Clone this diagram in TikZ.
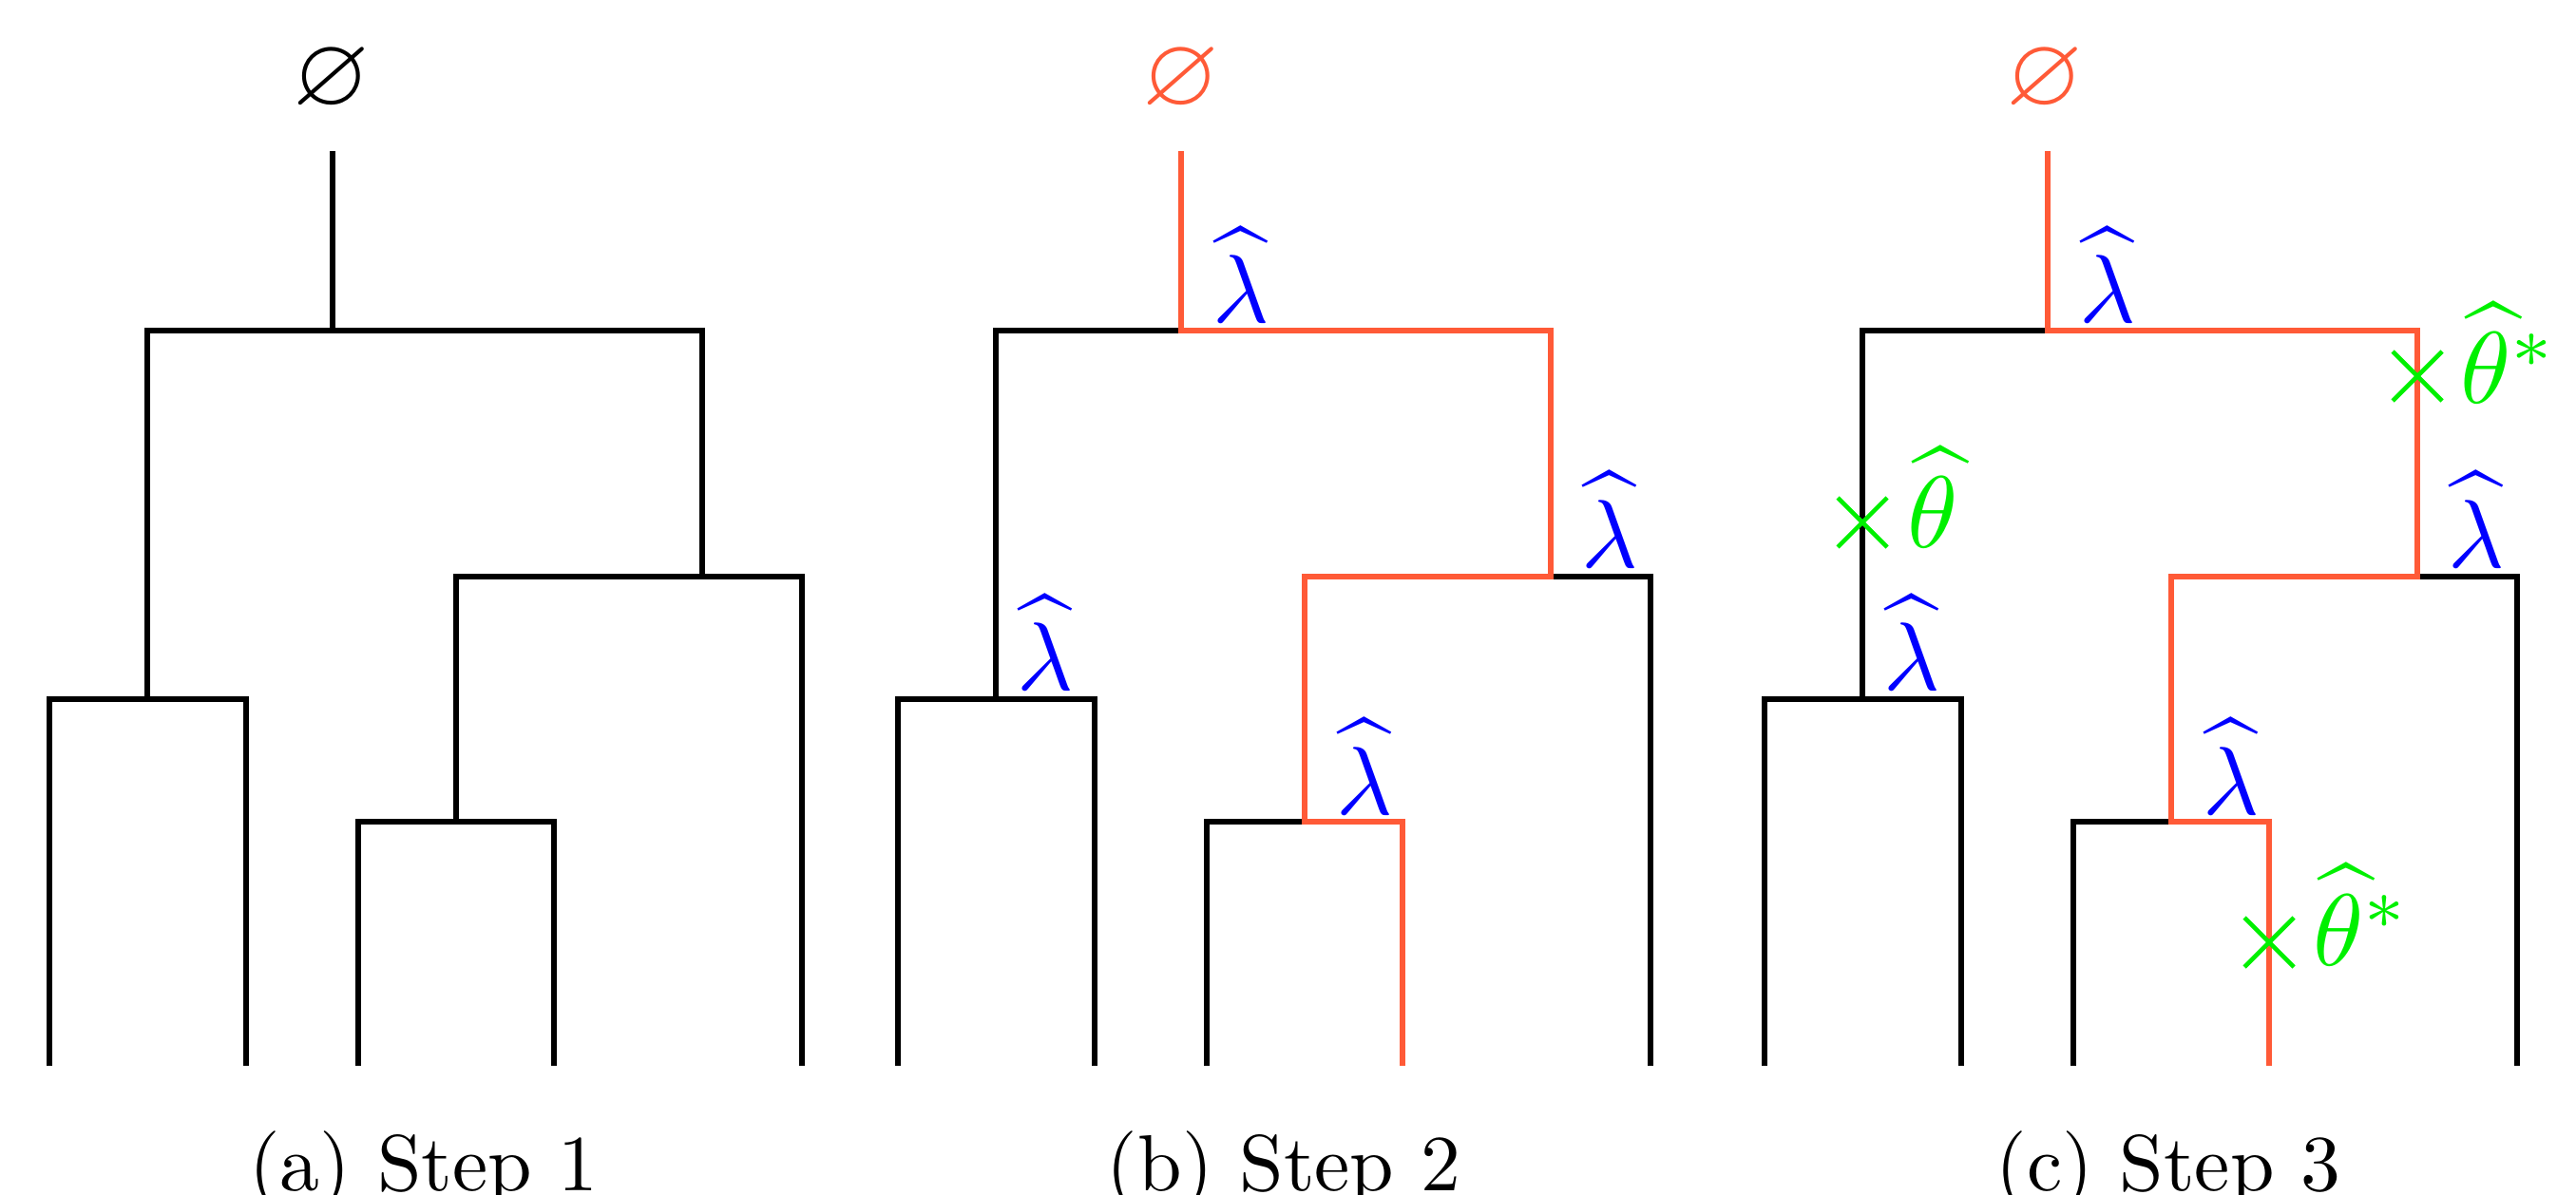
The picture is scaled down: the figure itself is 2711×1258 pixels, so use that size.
\documentclass[tikz,border=0pt]{standalone}
\usepackage{amssymb}
\definecolor{pathred}{RGB}{255,90,55}
\definecolor{lamblue}{RGB}{0,0,255}
\definecolor{thgreen}{RGB}{0,240,0}

\newcommand{\treecoords}[2]{%
  \begin{scope}[shift={(#2,0)}]
    \coordinate (#1-top) at (350,159);
    \coordinate (#1-r)   at (350,348);
    \coordinate (#1-rl)  at (155,348);
    \coordinate (#1-rr)  at (739,348);
    \coordinate (#1-l)   at (155,736);
    \coordinate (#1-ll)  at (52,736);
    \coordinate (#1-lr)  at (259,736);
    \coordinate (#1-lla) at (52,1122);
    \coordinate (#1-lra) at (259,1122);
    \coordinate (#1-m)   at (739,607);
    \coordinate (#1-ml)  at (480,607);
    \coordinate (#1-mr)  at (844,607);
    \coordinate (#1-mra) at (844,1122);
    \coordinate (#1-n)   at (480,865);
    \coordinate (#1-nl)  at (377,865);
    \coordinate (#1-nr)  at (583,865);
    \coordinate (#1-nla) at (377,1122);
    \coordinate (#1-nra) at (583,1122);
    \coordinate (#1-lamr) at (413,340);
    \coordinate (#1-laml) at (207,727);
    \coordinate (#1-lamm) at (801,597);
    \coordinate (#1-lamn) at (543,857);
  \end{scope}}

\begin{document}
\begin{tikzpicture}[x=0.01cm,y=-0.01cm,line cap=butt,line join=miter,
  branch/.style={line width=1.65pt,black},
  chosen/.style={line width=1.65pt,pathred},
  lam/.style={text=lamblue,inner sep=0pt,anchor=base,scale=2.9},
  thlab/.style={text=thgreen,inner sep=0pt,anchor=base west,scale=3.05},
  cross/.style={line width=1.3pt,thgreen},
  capt/.style={inner sep=0pt,anchor=base,scale=2.38},
  emptylab/.style={inner sep=0pt,scale=2.95}]
\useasboundingbox (0,0) rectangle (2711,1258);

\treecoords{a}{0}
\treecoords{b}{893}
\treecoords{c}{1805}

% ---------- tree (a)
\node[emptylab] (a-empty) at (349,85) {$\varnothing$};
\draw[branch] (a-top) -- (a-r);
\draw[branch] (a-l) -- (a-rl) -- (a-rr) -- (a-m);
\draw[branch] (a-lla) -- (a-ll) -- (a-lr) -- (a-lra);
\draw[branch] (a-n) -- (a-ml) -- (a-mr) -- (a-mra);
\draw[branch] (a-nla) -- (a-nl) -- (a-nr) -- (a-nra);
\node[capt] (a-cap) at (446,1253) {(a) Step 1};

% ---------- trees (b) and (c)
\foreach \t in {b,c}{
  \draw[branch] (\t-l) -- (\t-rl) -- (\t-r);
  \draw[branch] (\t-lla) -- (\t-ll) -- (\t-lr) -- (\t-lra);
  \draw[branch] (\t-m) -- (\t-mr) -- (\t-mra);
  \draw[branch] (\t-nla) -- (\t-nl) -- (\t-n);
  \draw[chosen] (\t-top) -- (\t-r) -- (\t-rr) -- (\t-m) -- (\t-ml) -- (\t-n) -- (\t-nr) -- (\t-nra);
  \node[lam] (\t-lab1) at (\t-lamr) {$\widehat{\lambda}$};
  \node[lam] (\t-lab2) at (\t-laml) {$\widehat{\lambda}$};
  \node[lam] (\t-lab3) at (\t-lamm) {$\widehat{\lambda}$};
  \node[lam] (\t-lab4) at (\t-lamn) {$\widehat{\lambda}$};
}
\node[emptylab,text=pathred] (b-empty) at (1243,85) {$\varnothing$};
\node[emptylab,text=pathred] (c-empty) at (2152,85) {$\varnothing$};
\node[capt] (b-cap) at (1351,1253) {(b) Step 2};
\node[capt] (c-cap) at (2282,1253) {(c) Step 3};

% ---------- theta marks in (c)
\coordinate (x1) at (1960,550);
\coordinate (x2) at (2544,396);
\coordinate (x3) at (2388,992);
\foreach \p in {x1,x2,x3}{
  \draw[cross] (\p) +(-26,-26) -- +(26,26);
  \draw[cross] (\p) +(-26,26) -- +(26,-26);
}
\node[thlab] (th1) at (2005,577) {$\widehat{\theta}$};
\node[thlab] (th2) at (2587,425) {$\widehat{\theta}^*$};
\node[thlab] (th3) at (2432,1016) {$\widehat{\theta}^*$};
\end{tikzpicture}
\end{document}
